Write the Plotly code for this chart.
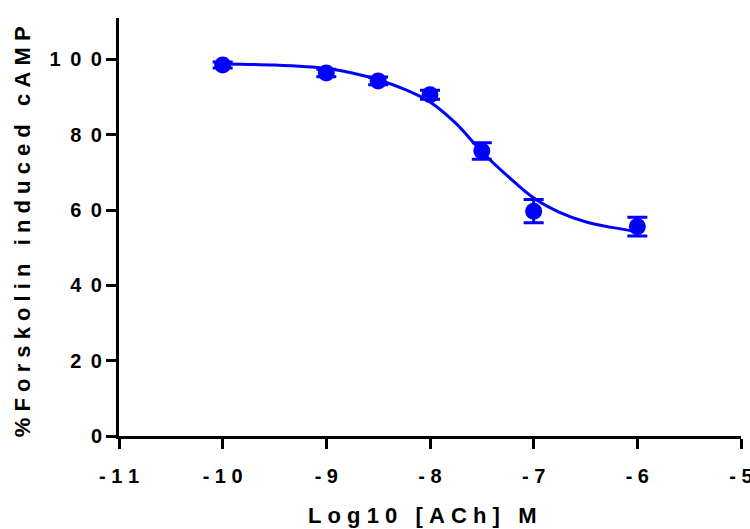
import plotly.graph_objects as go

# Measured points
log_conc = [-10, -9, -8.5, -8, -7.5, -7, -6]
response = [98.5, 96.4, 94.3, 90.6, 75.7, 59.7, 55.6]
sem = [0.8, 1.0, 1.0, 1.2, 2.2, 3.1, 2.5]

# Fitted curve
curve_x = [-10, -9.5, -9, -8.75, -8.5, -8.25, -8, -7.75, -7.5, -7.25, -7, -6.75, -6.5, -6.25, -6]
curve_y = [98.8, 98.5, 97.6, 96.4, 94.6, 92.1, 88.7, 83.0, 75.5, 69.0, 63.2, 59.4, 56.9, 55.4, 54.3]

x_ticks = [-11, -10, -9, -8, -7, -6, -5]
y_ticks = [0, 20, 40, 60, 80, 100]

x_title = "Log10 [ACh] M"
y_title = "%Forskolin induced cAMP"

NB = "\u00a0"
TH = "\u2009"

def spaced(s, sep):
    return sep.join(list(s.replace(" ", NB)))

FONT = "Liberation Sans, Arial, sans-serif"
blue = "#0000ff"

fig = go.Figure()
fig.add_trace(go.Scatter(x=curve_x, y=curve_y, mode="lines",
                         line=dict(color=blue, width=3, shape="spline", smoothing=1.0),
                         showlegend=False, hoverinfo="skip"))
fig.add_trace(go.Scatter(x=log_conc, y=response, mode="markers",
                         marker=dict(color=blue, size=17),
                         error_y=dict(type="data", array=sem, visible=True,
                                      color=blue, thickness=3, width=10),
                         showlegend=False))

fig.update_layout(
    width=750, height=529,
    margin=dict(l=119, r=9, t=18, b=93),
    plot_bgcolor="white", paper_bgcolor="white",
    font=dict(family=FONT, color="black"),
    xaxis=dict(range=[-11, -5], tickvals=x_ticks,
               ticktext=["<b>" + spaced(str(v), NB) + "</b>" for v in x_ticks],
               showgrid=False, zeroline=False, showline=True, linecolor="black",
               linewidth=3, ticks="outside", ticklen=10, tickwidth=3, tickcolor="black",
               tickfont=dict(family=FONT, size=20, color="black"),
               ticklabelstandoff=10, ticklabeloverflow="allow", automargin=False),
    yaxis=dict(range=[0, 111], tickvals=y_ticks,
               ticktext=["<b>" + spaced(str(v), NB + TH) + "</b>" for v in y_ticks],
               showgrid=False, zeroline=False, showline=True, linecolor="black",
               linewidth=3, ticks="outside", ticklen=10, tickwidth=3, tickcolor="black",
               tickfont=dict(family=FONT, size=20, color="black"),
               automargin=False),
    annotations=[
        dict(text="<b>" + spaced(x_title, NB) + "</b>", xref="paper", yref="paper",
             x=0.488, y=-0.19, xanchor="center", yanchor="middle", showarrow=False,
             font=dict(family=FONT, size=22, color="black")),
        dict(text="<b>" + spaced(y_title, NB) + "</b>", xref="paper", yref="paper",
             x=-0.156, y=0.49, xanchor="center", yanchor="middle", showarrow=False,
             textangle=-90, font=dict(family=FONT, size=22, color="black")),
    ],
)
fig.write_html("out.html", config={"displayModeBar": False},
               post_script="document.body.style.margin='0px';")
